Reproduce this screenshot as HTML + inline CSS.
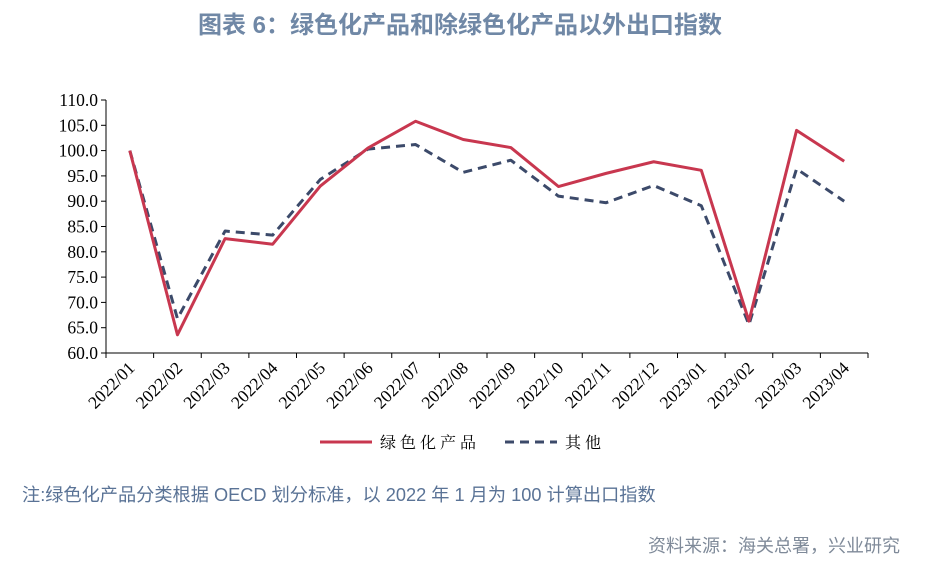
<!DOCTYPE html>
<html><head><meta charset="utf-8"><style>
body{margin:0;background:#fff;width:925px;height:570px;overflow:hidden}
svg text{font-family:"Liberation Serif","Noto Serif CJK SC",serif}
</style></head><body>
<svg id="c" width="925" height="570">
<text x="460" y="33" text-anchor="middle" font-size="24" font-weight="bold" fill="#7088a6" style="font-family:'Liberation Sans','Noto Sans CJK SC',sans-serif">图表 6：绿色化产品和除绿色化产品以外出口指数</text>
<g id="plot"></g>
<g>
<line x1="320" y1="442" x2="372" y2="442" stroke="#c8374f" stroke-width="3"/>
<text x="380" y="448" font-size="16" letter-spacing="4" fill="#000">绿色化产品</text>
<line x1="505" y1="442" x2="557" y2="442" stroke="#3c4a6a" stroke-width="3" stroke-dasharray="9,6"/>
<text x="565" y="448" font-size="16" letter-spacing="4" fill="#000">其他</text>
</g>
<text x="22" y="501" font-size="18.2" fill="#5a7396" style="font-family:'Liberation Sans','Noto Sans CJK SC',sans-serif">注:绿色化产品分类根据 OECD 划分标准，以 2022 年 1 月为 100 计算出口指数</text>
<text x="900" y="552" text-anchor="end" font-size="18" fill="#7f8a99" style="font-family:'Liberation Sans','Noto Sans CJK SC',sans-serif">资料来源：海关总署，兴业研究</text>
</svg>
<script>
const categories=["2022/01","2022/02","2022/03","2022/04","2022/05","2022/06","2022/07","2022/08","2022/09","2022/10","2022/11","2022/12","2023/01","2023/02","2023/03","2023/04"];
const greenValues=[100,63.6,82.6,81.5,93,100.5,105.8,102.2,100.6,92.9,95.5,97.8,96.1,66.3,104,97.9];
const otherValues=[100,66.8,84.1,83.3,94.3,100.3,101.2,95.7,98.1,91,89.7,93.1,89.1,65.6,96.4,90];
const yTicks=[60,65,70,75,80,85,90,95,100,105,110];
const NS="http://www.w3.org/2000/svg",g=document.getElementById('plot');
const X0=106,X1=868,Y0=353,Y1=100,yMin=60,yMax=110;
const bw=(X1-X0)/categories.length;
const x=i=>X0+bw*(i+0.5), y=v=>Y0-(v-yMin)/(yMax-yMin)*(Y0-Y1);
function mk(t,a){const e=document.createElementNS(NS,t);for(const k in a)e.setAttribute(k,a[k]);g.appendChild(e);return e;}
let e=mk('line',{x1:X0,y1:Y1,x2:X0,y2:Y0,stroke:'#000','stroke-width':1});


e=mk('line',{x1:X0,y1:Y0,x2:X1,y2:Y0,stroke:'#000','stroke-width':1});


yTicks.forEach(v=>{
 mk('line',{x1:X0-5,y1:y(v),x2:X0,y2:y(v),stroke:'#000'});
 const t=mk('text',{x:X0-8,y:y(v)+6,'text-anchor':'end','font-size':17.5});
 t.textContent=v.toFixed(1);
 
 
});
categories.forEach((c,i)=>{
 mk('line',{x1:X0+bw*i,y1:Y0,x2:X0+bw*i,y2:Y0+5,stroke:'#000'});
 const t=mk('text',{transform:`translate(${x(i)+6},${Y0+16}) rotate(-45)`,'text-anchor':'end','font-size':17.5});
 t.textContent=c;
 
 
});
mk('line',{x1:X1,y1:Y0,x2:X1,y2:Y0+5,stroke:'#000'});
function line(vals,col,dash,name){
 const p=mk('polyline',{points:vals.map((v,i)=>x(i)+','+y(v)).join(' '),fill:'none',stroke:col,'stroke-width':3,'stroke-dasharray':dash,'stroke-linejoin':'round'});
 
 
}
line(otherValues,'#3c4a6a','9,6','series-other');
line(greenValues,'#c8374f','none','series-green');
</script>
</body></html>
